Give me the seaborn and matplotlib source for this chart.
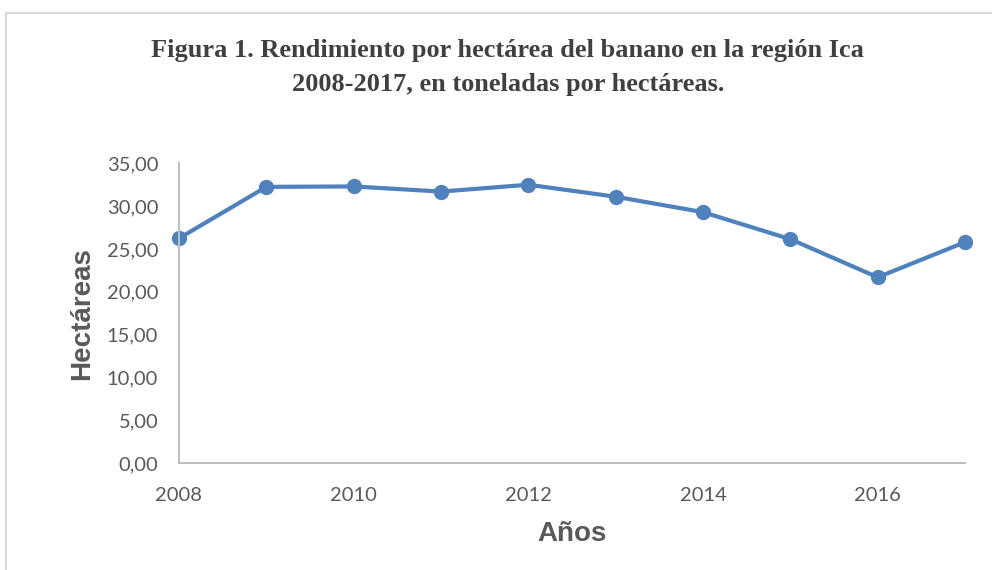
import matplotlib
matplotlib.use("Agg")
import matplotlib.pyplot as plt
import seaborn as sns
import pandas as pd
from matplotlib.patches import Rectangle
from matplotlib.ticker import FuncFormatter

# Datos
anios = [2008, 2009, 2010, 2011, 2012, 2013, 2014, 2015, 2016, 2017]
rendimiento = [26.25, 32.25, 32.30, 31.70, 32.50, 31.10, 29.30, 26.15, 21.70, 25.80]
xticks = [2008, 2010, 2012, 2014, 2016]
yticks = [0, 5, 10, 15, 20, 25, 30, 35]

df = pd.DataFrame({"Años": anios, "Hectáreas": rendimiento})

sns.set_style("white")
plt.rcParams["font.family"] = ["Lato", "DejaVu Sans"]

fig = plt.figure(figsize=(9.92, 5.70), dpi=100)
ax = fig.add_axes([179 / 992, 1 - 463.3 / 570, (965 - 179) / 992, (463.3 - 163.3) / 570])

sns.lineplot(data=df, x="Años", y="Hectáreas", ax=ax, color="#4F81BD",
             linewidth=3, marker="o", markersize=11, markeredgewidth=0)

ax.set_xlim(2008, 2017)
ax.set_ylim(0, 35)
ax.set_xticks(xticks)
ax.set_yticks(yticks)
ax.yaxis.set_major_formatter(FuncFormatter(lambda v, p: f"{v:.2f}".replace(".", ",")))
ax.tick_params(axis="both", length=0, labelsize=14.5, labelcolor="#595959")
ax.tick_params(axis="x", pad=17)
ax.tick_params(axis="y", pad=15)

for s in ["top", "right"]:
    ax.spines[s].set_visible(False)
for s in ["left", "bottom"]:
    ax.spines[s].set_color("#BFBFBF")
    ax.spines[s].set_linewidth(1.5)
for line in ax.get_lines():
    line.set_clip_on(False)

ax.set_xlabel("Años", fontsize=20, fontweight="bold", color="#595959",
              family="Liberation Sans", labelpad=12)
ax.set_ylabel("Hectáreas", fontsize=20, fontweight="bold", color="#595959",
              family="Liberation Sans", labelpad=8)

fig.text(0.512, 1 - 50 / 570, "Figura 1. Rendimiento por hectárea del banano en la región Ica",
         ha="center", va="center", fontsize=19, fontweight="bold",
         family="Liberation Serif", color="#404040")
fig.text(0.512, 1 - 84 / 570, "2008-2017, en toneladas por hectáreas.",
         ha="center", va="center", fontsize=19, fontweight="bold",
         family="Liberation Serif", color="#404040")

# marco del gráfico
fig.patches.append(Rectangle((6 / 992, -0.1), 1.1, 1.1 - 13 / 570, transform=fig.transFigure,
                             fill=False, edgecolor="#D9D9D9", linewidth=1.5))

plt.savefig("out.png", dpi=100)
